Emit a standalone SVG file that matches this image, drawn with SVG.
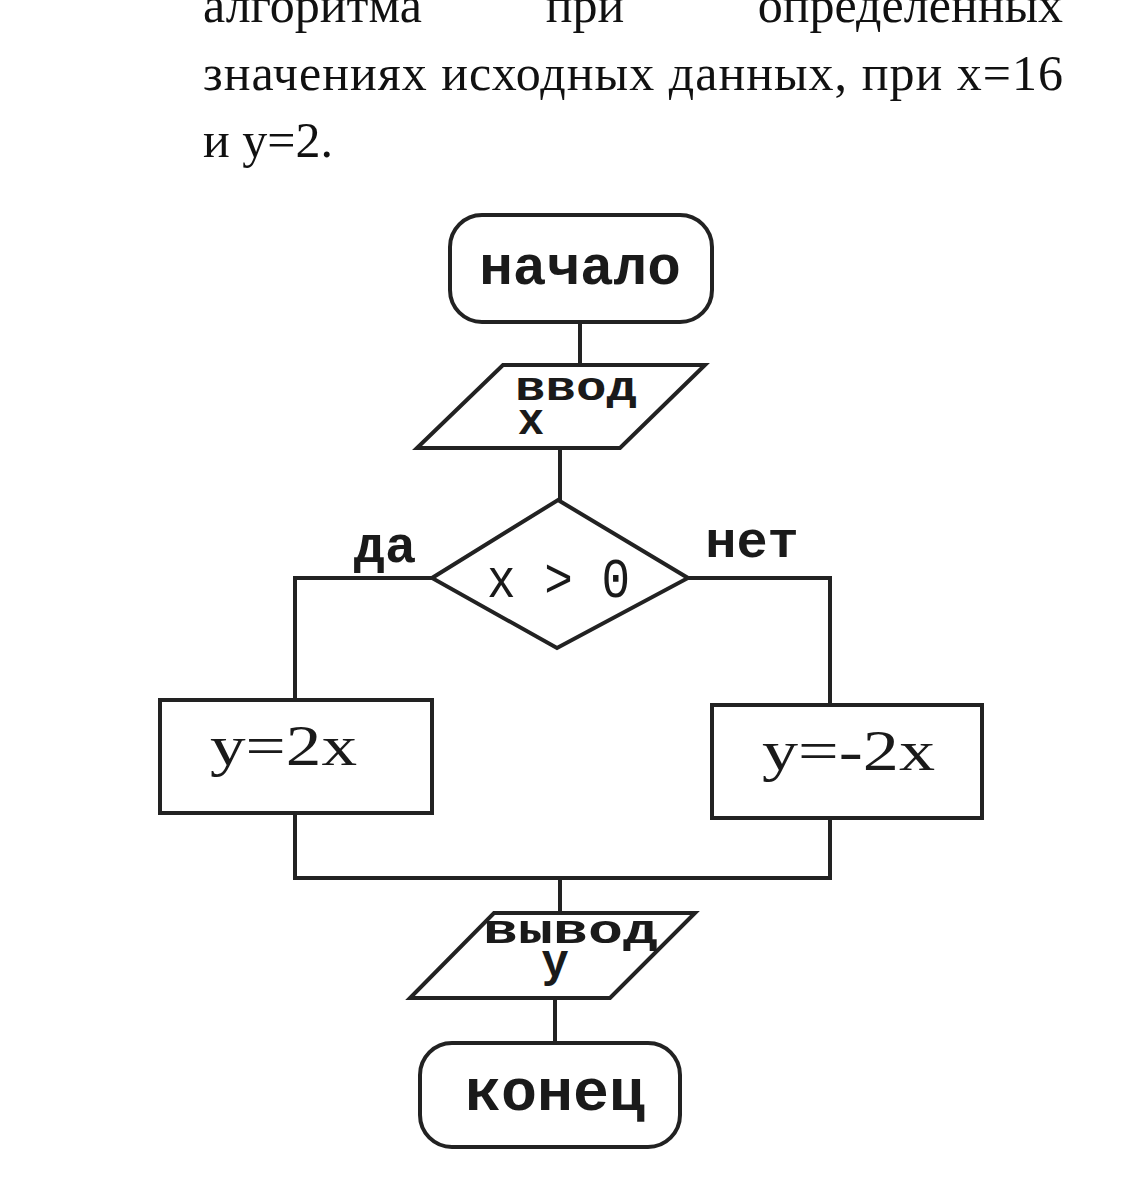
<svg xmlns="http://www.w3.org/2000/svg" width="1134" height="1200" viewBox="0 0 1134 1200">
<style>
.s{fill:none;stroke:#222;stroke-width:4;stroke-linejoin:miter}
.n{fill:#fff;stroke:#222;stroke-width:4}
.body{font-family:"Liberation Serif","Times New Roman",serif;font-size:50px;fill:#111}
.m{font-family:"Liberation Mono","Courier New",monospace;font-weight:bold;fill:#1a1a1a}
.f{font-family:"Liberation Serif","Times New Roman",serif;fill:#1a1a1a}
</style>
<rect width="1134" height="1200" fill="#fff"/>
<g id="intro">
<text class="body" x="203" y="22">алгоритма</text>
<text class="body" x="585" y="22" text-anchor="middle">при</text>
<text class="body" x="1063" y="22" text-anchor="end">определенных</text>
<text class="body" x="203" y="90" textLength="860" lengthAdjust="spacing">значениях исходных данных, при x=16</text>
<text class="body" x="203" y="157">и y=2.</text>
</g>
<g id="connectors">
<path class="s" d="M580 322V365"/>
<path class="s" d="M560 448V500"/>
<path class="s" d="M432 578H295V700"/>
<path class="s" d="M688 578H830V705"/>
<path class="s" d="M295 813V878H830V818"/>
<path class="s" d="M560 878V913"/>
<path class="s" d="M555 998V1043"/>
<text class="m" x="385" y="562" font-size="52" text-anchor="middle">да</text>
<text class="m" x="752" y="557" font-size="52" text-anchor="middle">нет</text>
</g>
<g id="start">
<rect class="n" x="450" y="215" width="262" height="107" rx="32"/>
<text class="m" x="580" y="284" font-size="56" text-anchor="middle">начало</text>
</g>
<g id="input">
<polygon class="n" points="503,365 705,365 620,448 417,448"/>
<text class="m" x="515" y="400" font-size="40" textLength="122" lengthAdjust="spacingAndGlyphs">ввод</text>
<text class="m" x="531" y="434" font-size="44" text-anchor="middle">x</text>
</g>
<g id="decision">
<polygon class="n" points="558,500 688,578 557,648 432,578"/>
<text x="487" y="597" font-family="Liberation Mono,monospace" font-size="56" fill="#1a1a1a" textLength="143" lengthAdjust="spacingAndGlyphs">x &gt; 0</text>
</g>
<g id="yes">
<rect class="n" x="160" y="700" width="272" height="113"/>
<text class="f" x="210" y="765" font-size="58" textLength="147" lengthAdjust="spacingAndGlyphs">y=2x</text>
</g>
<g id="no">
<rect class="n" x="712" y="705" width="270" height="113"/>
<text class="f" x="762" y="770" font-size="58" textLength="173" lengthAdjust="spacingAndGlyphs">y=-2x</text>
</g>
<g id="output">
<polygon class="n" points="494,913 695,913 610,998 410,998"/>
<text class="m" x="483" y="943" font-size="40" textLength="175" lengthAdjust="spacingAndGlyphs">вывод</text>
<text class="m" x="555" y="976" font-size="46" text-anchor="middle">y</text>
</g>
<g id="end">
<rect class="n" x="420" y="1043" width="260" height="104" rx="32"/>
<text class="m" x="555" y="1110" font-size="60" text-anchor="middle">конец</text>
</g>
</svg>
